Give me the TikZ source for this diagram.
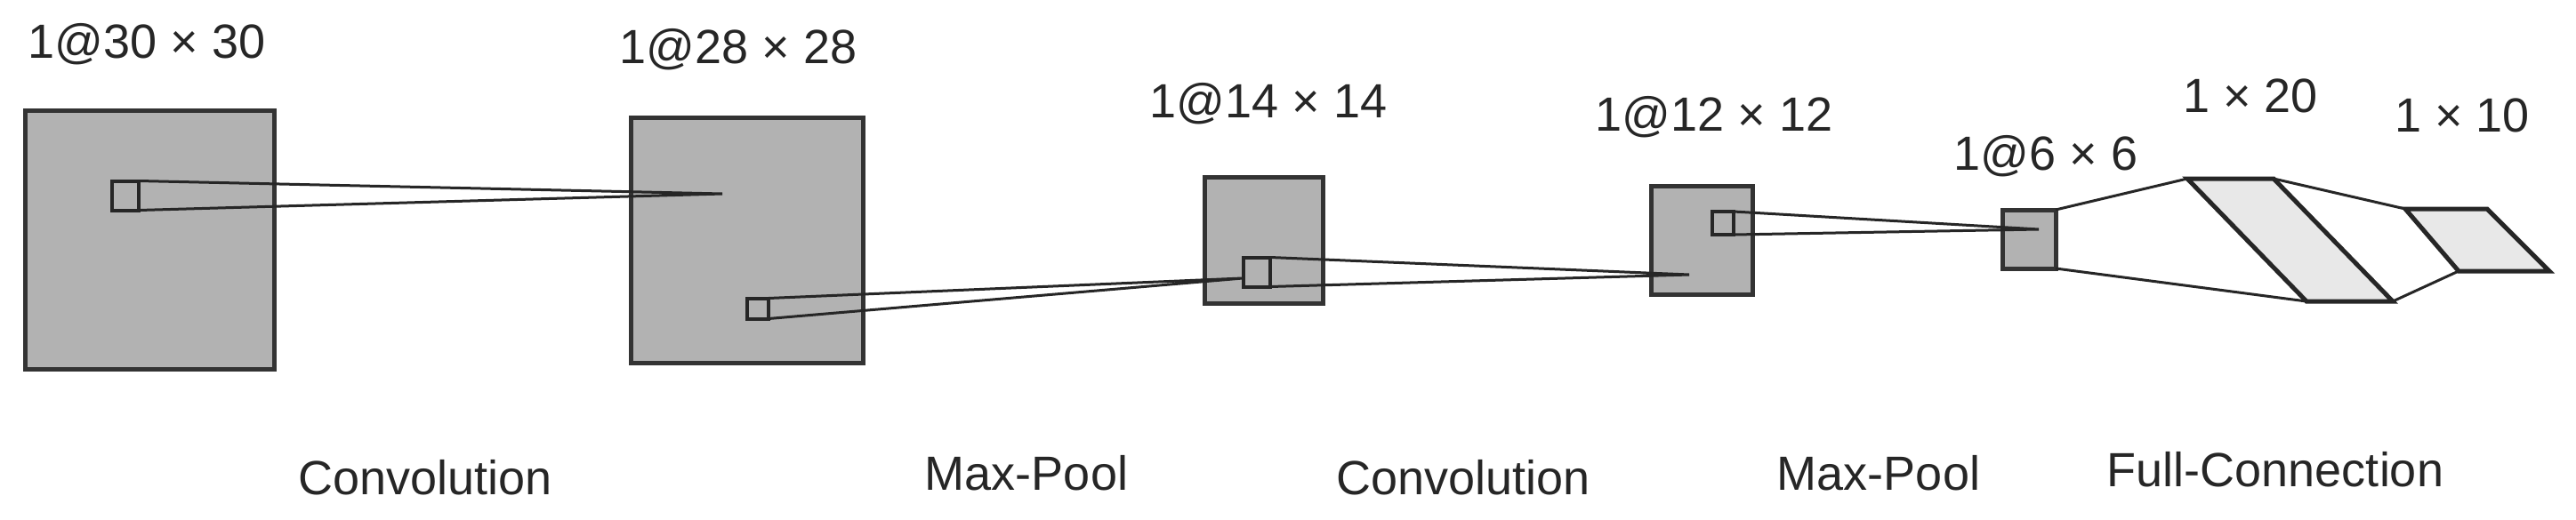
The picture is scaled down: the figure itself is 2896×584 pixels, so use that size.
\documentclass[tikz,border=0pt]{standalone}
\usepackage{fontspec}
\setmainfont{Liberation Sans}
\begin{document}
\begin{tikzpicture}[x=1pt,y=-1pt,
  fmap/.style={draw=black!80,line width=5pt,fill=black!30,inner sep=0pt,outer sep=0pt},
  win/.style={draw=black!85,line width=4pt,fill=black!30,inner sep=0pt,outer sep=0pt},
  fc/.style={draw=black!85,line width=5pt,fill=black!9,line join=miter},
  conn/.style={draw=black!85,line width=3pt},
  lab/.style={font=\fontsize{54}{60}\selectfont,text=black!85,inner sep=0pt}]
\useasboundingbox (0,0) rectangle (2896,584);
% feature maps
\node[fmap,minimum width=280pt,minimum height=291pt] (m1) at (168,270) {};
\node[fmap,minimum width=261pt,minimum height=276pt] (m2) at (840,270) {};
\node[fmap,minimum width=133pt,minimum height=142pt] (m3) at (1421,270) {};
\node[fmap,minimum width=114pt,minimum height=122pt] (m4) at (1913,270) {};
\node[fmap,minimum width=60pt,minimum height=66pt] (m5) at (2281,269) {};
% windows
\node[win,minimum width=30pt,minimum height=33pt] (w1) at (141,220) {};
\node[win,minimum width=24pt,minimum height=23pt] (w2) at (852,347) {};
\node[win,minimum width=30pt,minimum height=33pt] (w3) at (1413,306) {};
\node[win,minimum width=24pt,minimum height=26pt] (w4) at (1937,251) {};
\coordinate (a2) at (812,218);
\coordinate (a3) at (1397,313);
\coordinate (a4) at (1899,309);
\coordinate (a5) at (2292,258);
\draw[conn] (w1.north east) -- (a2) -- (w1.south east);
\draw[conn] (w2.north east) -- (a3) -- (w2.south east);
\draw[conn] (w3.north east) -- (a4) -- (w3.south east);
\draw[conn] (w4.north east) -- (a5) -- (w4.south east);
% fully connected layers
\coordinate (p1a) at (2459,201); \coordinate (p1b) at (2556,201);
\coordinate (p1c) at (2690,339); \coordinate (p1d) at (2593,339);
\coordinate (p2a) at (2704,235); \coordinate (p2b) at (2796,235);
\coordinate (p2c) at (2866,305); \coordinate (p2d) at (2764,305);
\draw[conn] (m5.north east) -- (p1a);
\draw[conn] (m5.south east) -- (p1d);
\draw[conn] (p1b) -- (p2a);
\draw[conn] (p1c) -- (p2d);
\draw[fc] (p1a) -- (p1b) -- (p1c) -- (p1d) -- cycle;
\draw[fc] (p2a) -- (p2b) -- (p2c) -- (p2d) -- cycle;
% labels
\node[lab] (l1) at (165,50) {1@30 × 30};
\node[lab] (l2) at (830,56) {1@28 × 28};
\node[lab] (l3) at (1426,117) {1@14 × 14};
\node[lab] (l4) at (1927,132) {1@12 × 12};
\node[lab] (l5) at (2300,176) {1@6 × 6};
\node[lab] (l6) at (2530,108) {1 × 20};
\node[lab] (l7) at (2768,130) {1 × 10};
\node[lab] (b1) at (478,537) {Convolution};
\node[lab] (b2) at (1154,532) {Max-Pool};
\node[lab] (b3) at (1645,537) {Convolution};
\node[lab] (b4) at (2112,532) {Max-Pool};
\node[lab] (b5) at (2558,528) {Full-Connection};
\end{tikzpicture}
\end{document}
